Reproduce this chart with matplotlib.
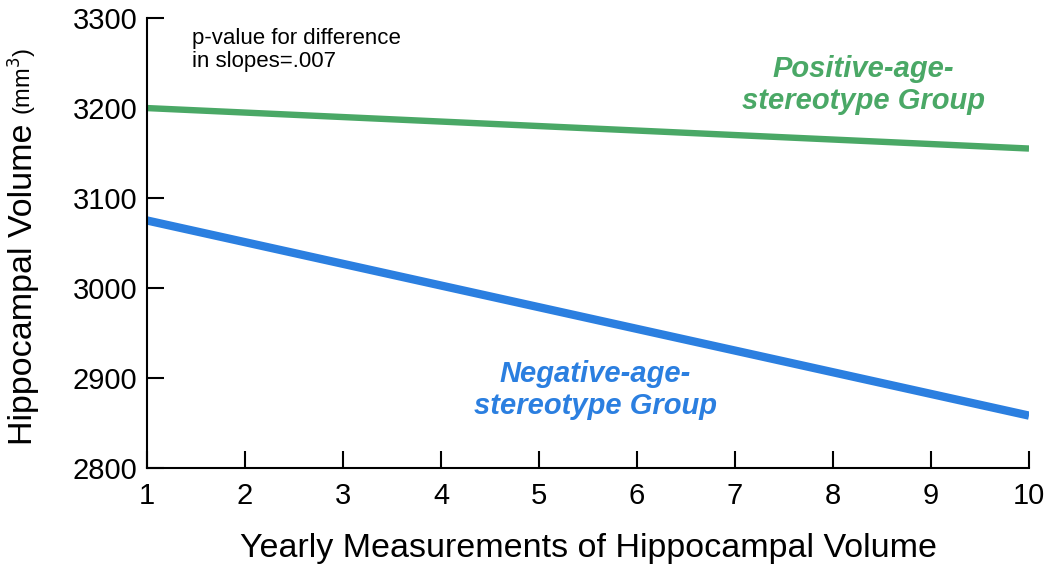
import matplotlib

matplotlib.use("Agg")
import matplotlib.pyplot as plt  # noqa: E402

plt.rcParams["font.family"] = ["Liberation Sans", "DejaVu Sans"]

# yearly measurement index (first and last year of the fitted lines)
years = [1, 10]
# fitted hippocampal volume (mm3) for each group
positive_volume = [3200, 3155]
negative_volume = [3075, 2858]

x_ticks = list(range(1, 11))
y_ticks = [2800, 2900, 3000, 3100, 3200, 3300]

green = "#4aa866"
blue = "#2b7fe0"

fig = plt.figure(figsize=(10.5, 5.67), dpi=100)
ax = fig.add_axes([0.14, 0.175, 0.84, 0.793])

ax.plot(years, positive_volume, color=green, lw=4.6, solid_capstyle="butt")
ax.plot(years, negative_volume, color=blue, lw=6.0, solid_capstyle="butt")

ax.set_xlim(1, 10)
ax.set_ylim(2800, 3300)
ax.set_xticks(x_ticks)
ax.set_yticks(y_ticks)
ax.tick_params(direction="in", length=12, width=1.5, labelsize=21)
ax.tick_params(axis="x", pad=10)
ax.tick_params(axis="y", pad=7)
for side in ("top", "right"):
    ax.spines[side].set_visible(False)
for side in ("left", "bottom"):
    ax.spines[side].set_linewidth(1.5)

ax.set_xlabel("Yearly Measurements of Hippocampal Volume", fontsize=24.5, labelpad=17)
fig.text(0.0305, 0.499, "Hippocampal Volume", rotation=90, fontsize=24.5,
         ha="center", va="baseline", rotation_mode="anchor")
fig.text(0.0305, 0.857, "(mm$^3$)", rotation=90, fontsize=17,
         ha="center", va="baseline", rotation_mode="anchor")

ax.text(0.051, 0.978, "p-value for difference\nin slopes=.007", transform=ax.transAxes,
        fontsize=16, va="top", ha="left", linespacing=1.1)
fig.text(0.822, 0.85, "Positive-age-\nstereotype Group", color=green, fontsize=21,
         fontweight="bold", fontstyle="italic", ha="center", va="center", linespacing=1.2)
fig.text(0.567, 0.312, "Negative-age-\nstereotype Group", color=blue, fontsize=21,
         fontweight="bold", fontstyle="italic", ha="center", va="center", linespacing=1.2)

fig.savefig("out.png", dpi=100)
plt.close(fig)
